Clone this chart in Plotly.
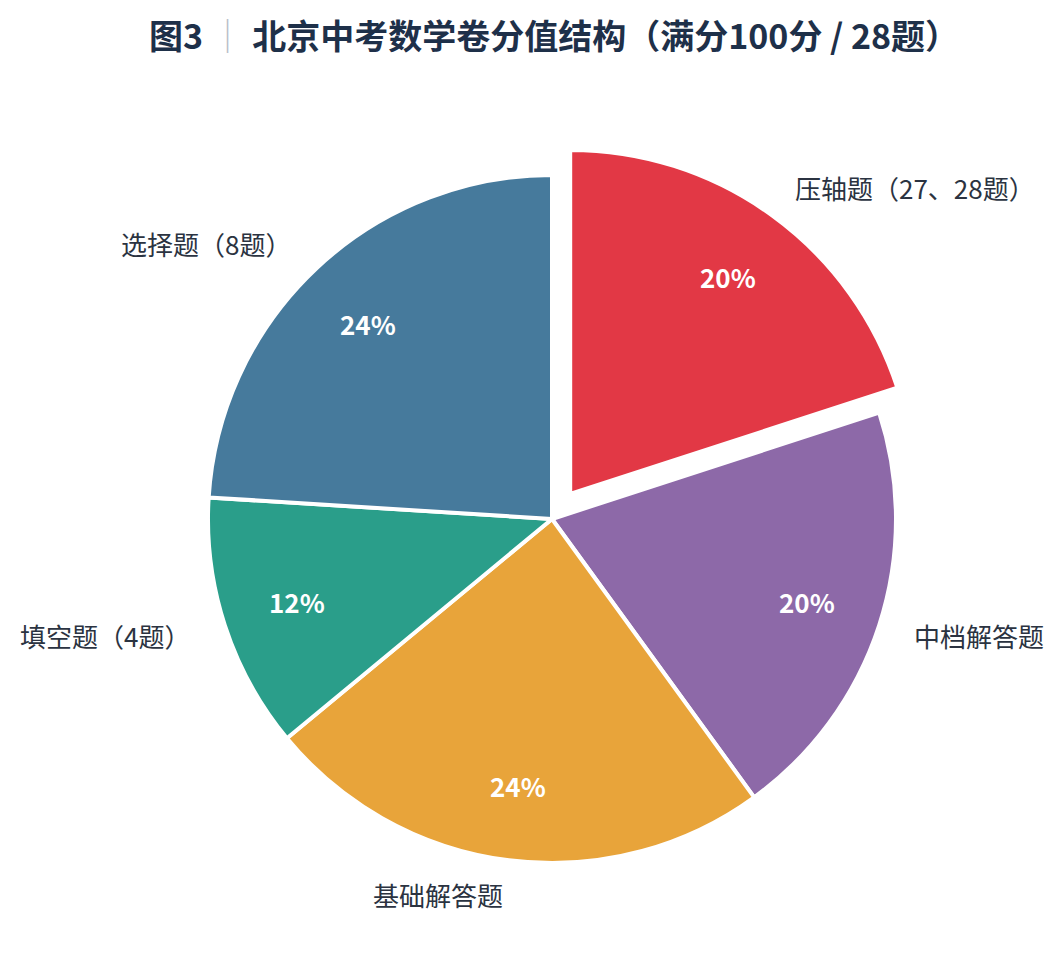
import math
import plotly.graph_objects as go

# ── 数据 ─────────────────────────────────────────
labels = ["压轴题（27、28题）", "中档解答题", "基础解答题", "填空题（4题）", "选择题（8题）"]
values = [20, 20, 24, 12, 24]
colors = ["#e23845", "#8d69a8", "#e8a43a", "#2a9e8a", "#467a9c"]
pulls = [0.09, 0, 0, 0, 0]

TITLE = ("<b>图3</b> <span style='color:#b8bec8'>｜</span> "
         "<b>北京中考数学卷分值结构（满分100分 / 28题）</b>")

# ── 画布几何（页面 body 有 8px 边距）─────────────
W, H = 1048, 955
CX, CY, R = 544, 511, 344
FONT = "Noto Sans CJK SC, Noto Sans, sans-serif"

side = 2 * R * (1 + max(pulls))
dom_x = [(CX - side / 2) / W, (CX + side / 2) / W]
dom_y = [1 - (CY + side / 2) / H, 1 - (CY - side / 2) / H]

fig = go.Figure(go.Pie(
    labels=labels, values=values, sort=False,
    direction="clockwise", rotation=0, pull=pulls,
    marker=dict(colors=colors, line=dict(color="white", width=4)),
    textinfo="none", domain=dict(x=dom_x, y=dom_y),
    showlegend=False,
    hovertemplate="%{label}<br>%{value}分 (%{percent})<extra></extra>"))

# 标签 & 百分比：按扇区角平分线计算位置
total = sum(values)
cum = 0
for lab, v, p in zip(labels, values, pulls):
    mid = (cum + v / 2) / total * 2 * math.pi
    cum += v
    sx, sy = math.sin(mid), math.cos(mid)
    off = p * R

    d = 1.1 * R + off
    fig.add_annotation(
        x=(CX + d * sx) / W, y=1 - (CY - d * sy) / H,
        xref="paper", yref="paper", text=lab, showarrow=False,
        xanchor="left" if sx > 0 else "right", yanchor="middle",
        font=dict(family=FONT, size=26, color="#2b3341"))

    d = 0.78 * R + off
    fig.add_annotation(
        x=(CX + d * sx) / W, y=1 - (CY - d * sy) / H,
        xref="paper", yref="paper", text=f"<b>{round(v / total * 100)}%</b>",
        showarrow=False, xanchor="center", yanchor="middle",
        font=dict(family=FONT, size=26, color="white"))

fig.update_layout(
    width=W, height=H, plot_bgcolor="white", paper_bgcolor="white",
    margin=dict(t=0, b=0, l=0, r=0),
    font=dict(family=FONT, size=14),
    title=dict(text=TITLE, x=0.521, xanchor="center", y=1 - 29 / H,
               yanchor="middle", yref="container",
               font=dict(family=FONT, size=34, color="#1e3049")))

fig.write_html("out.html")
